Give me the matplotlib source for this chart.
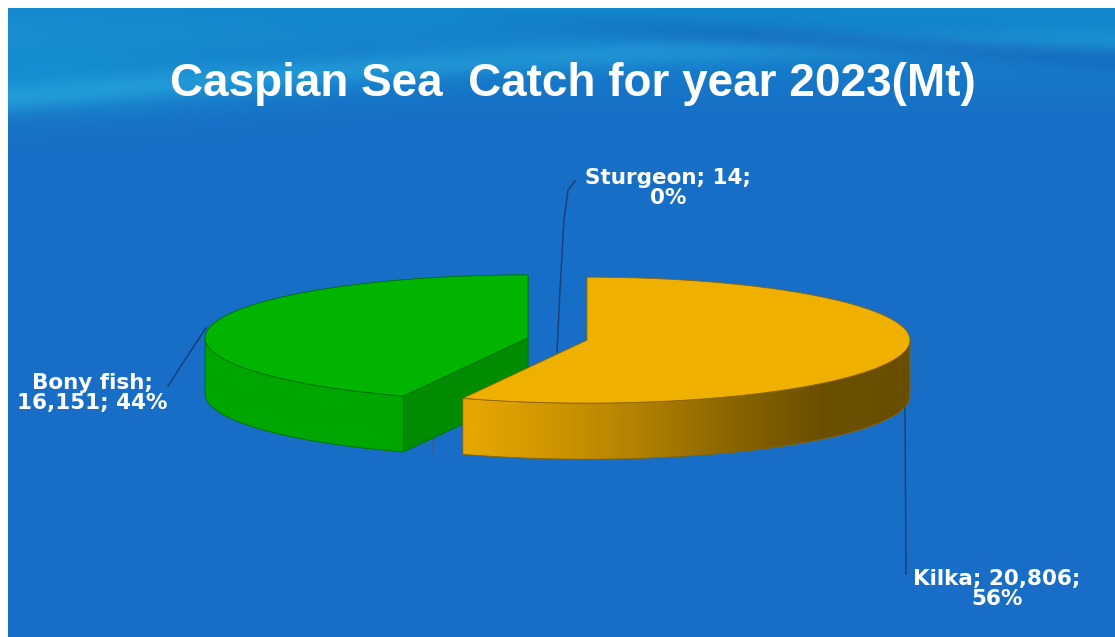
import numpy as np
import matplotlib
matplotlib.use("Agg")
import matplotlib.pyplot as plt
from matplotlib.patches import Polygon
from matplotlib.colors import LinearSegmentedColormap

# ---- data -------------------------------------------------------------
categories = ["Kilka", "Sturgeon", "Bony fish"]
catch_t = [20806, 14, 16151]
title = "Caspian Sea  Catch for year 2023(Mt)"

# ---- styling ----------------------------------------------------------
top_colors = {"Kilka": "#F0B000", "Sturgeon": "#C0504D", "Bony fish": "#00B400"}
side_colors = {"Kilka": None, "Sturgeon": "#943634", "Bony fish": "#00A600"}
cut_colors = {"Kilka": "#B88400", "Sturgeon": "#7A2C2A", "Bony fish": "#008C00"}
edge_colors = {"Kilka": "#8A6400", "Sturgeon": "#632523", "Bony fish": "#007000"}
explode_px = {"Kilka": 30, "Sturgeon": 0, "Bony fish": 30}
label_fmt = {"Kilka": "Kilka; {v};\n{p}",
             "Sturgeon": "Sturgeon; {v};\n{p}",
             "Bony fish": "Bony fish;\n{v}; {p}"}
label_pos = {"Kilka": (997, 589), "Sturgeon": (668, 188), "Bony fish": (92, 393)}
leaders = {"Kilka": [(905, 408), (906, 574)],
           "Sturgeon": [(557, 352), (560, 290), (564, 220), (568, 190), (575, 181)],
           "Bony fish": [(206, 328), (190, 352), (168, 386)]}

W, H = 1115, 637
cx, cy = 557.5, 339.0      # pie centre on screen
rx, ry = 323.0, 63.0       # ellipse radii of the tilted pie
depth = 56.0               # thickness of the pie
start_angle = 90.0

fig = plt.figure(figsize=(W / 100, H / 100), dpi=100)
ax = fig.add_axes([0, 0, 1, 1])
ax.axis("off")

# ---- slide background -------------------------------------------------
yy, xx = np.mgrid[0:H, 0:W].astype(float)
base = np.array([24, 110, 198]) / 255.0
img = np.ones((H, W, 3)) * base
# lighter, slightly cyan sky at the top (strongest on the left)
top_col = np.array([18, 135, 205]) / 255.0
t = np.clip((120 - yy) / 110.0, 0, 1)
img = img * (1 - t[..., None]) + top_col * t[..., None]
corner = np.exp(-(((xx - 8) / 260.0) ** 2 + ((yy - 70) / 45.0) ** 2)) * 0.55
corner_col = np.array([22, 158, 215]) / 255.0
img = img * (1 - corner[..., None]) + corner_col * corner[..., None]
# cyan wave sweeping up to the right
wave_c = 98 - 58 * (xx / W) - 12 * np.sin(xx / W * np.pi)
band = np.exp(-((yy - wave_c) / 14.0) ** 2) * (0.55 + 0.45 * (1 - xx / W))
cyan = np.array([40, 165, 220]) / 255.0
img = img * (1 - band[..., None] * 0.7) + cyan * band[..., None] * 0.7
# darker wave in the upper right
u = np.clip((xx - 450) / 665.0, 0, 1)
wave_d = 20 + 40 * u ** 1.2
band_d = np.exp(-((yy - wave_d) / 12.0) ** 2) * np.clip((xx - 450) / 300, 0, 1)
dark = np.array([20, 95, 185]) / 255.0
img = img * (1 - band_d[..., None] * 0.5) + dark * band_d[..., None] * 0.5
# soft light streak near the top
wave_l = 30 + 15 * (xx / W)
band_l = np.exp(-((yy - wave_l) / 18.0) ** 2) * np.clip(1 - xx / 700, 0, 1) * 0.3
light = np.array([40, 150, 215]) / 255.0
img = img * (1 - band_l[..., None]) + light * band_l[..., None]
# white slide margin
img[:8, :, :] = 1.0
img[:, :8, :] = 1.0
ax.imshow(np.clip(img, 0, 1), extent=(0, W, H, 0), aspect="auto", zorder=0,
          interpolation="bilinear")

# ---- 3-D exploded pie -------------------------------------------------
total = float(sum(catch_t))
fracs = [v / total for v in catch_t]


def pt(ox, oy, theta, z=0.0, r=1.0):
    th = np.radians(theta)
    return (cx + ox + r * rx * np.cos(th), cy + oy - r * ry * np.sin(th) + z)


def arc(ox, oy, a0, a1, z=0.0, n=120):
    ths = np.linspace(a0, a1, n)
    return [pt(ox, oy, th, z) for th in ths]


def visible_side(lo, hi):
    spans = []
    for s0, s1 in [(-540, -360), (-180, 0), (180, 360)]:
        a, b = max(lo, s0), min(hi, s1)
        if b > a:
            spans.append((a, b))
    return spans


slices = []
cum = 0.0
for name, f in zip(categories, fracs):
    hi = start_angle - 360 * cum
    lo = start_angle - 360 * (cum + f)
    cum += f
    mid = 0.5 * (lo + hi)
    e = explode_px[name]
    ox = e * np.cos(np.radians(mid))
    oy = -e * np.sin(np.radians(mid)) * ry / rx
    slices.append((name, f, lo, hi, ox, oy))

kilka_cmap = LinearSegmentedColormap.from_list(
    "kilka_side", ["#E8A800", "#D09600", "#B08000", "#8A6500", "#6C5000", "#6A4E00"])

# back-most slices first: sturgeon (hair-thin), bony fish, kilka
order = ["Sturgeon", "Bony fish", "Kilka"]
for name in order:
    _, f, lo, hi, ox, oy = next(s for s in slices if s[0] == name)
    zb = 1 + order.index(name) * 5
    ec = edge_colors[name]
    thin = f < 0.005
    # cut faces facing the viewer (a hair-thin slice shows none)
    if not thin:
        for a, normal in [(hi, hi + 90), (lo, lo - 90)]:
            if np.sin(np.radians(normal)) < -1e-6:
                c0 = pt(ox, oy, 0, 0, r=0)
                c1 = pt(ox, oy, 0, depth, r=0)
                p0 = pt(ox, oy, a, 0)
                p1 = pt(ox, oy, a, depth)
                ax.add_patch(Polygon([c0, p0, p1, c1], closed=True,
                                     facecolor=cut_colors[name],
                                     edgecolor=ec, lw=0.6, zorder=zb))
    # outer curved wall
    for a0, a1 in visible_side(lo, hi):
        poly = arc(ox, oy, a0, a1, 0) + arc(ox, oy, a1, a0, depth)
        if side_colors[name] is None:
            patch = Polygon(poly, closed=True, facecolor="none", edgecolor=ec, lw=0.6,
                            zorder=zb + 1)
            ax.add_patch(patch)
            xs = [p[0] for p in poly]
            ys = [p[1] for p in poly]
            grad = np.linspace(0, 1, 256)[None, :]
            im = ax.imshow(grad, cmap=kilka_cmap, aspect="auto",
                           extent=(min(xs), max(xs), max(ys), min(ys)), zorder=zb + 0.5)
            im.set_clip_path(patch)
        else:
            ax.add_patch(Polygon(poly, closed=True, facecolor=side_colors[name],
                                 edgecolor=ec, lw=0 if thin else 0.6, zorder=zb + 1))
    # top face
    top = [pt(ox, oy, 0, 0, r=0)] + arc(ox, oy, lo, hi, 0)
    ax.add_patch(Polygon(top, closed=True, facecolor=top_colors[name],
                         edgecolor=ec, lw=0 if thin else 0.6, zorder=zb + 2))

# ---- data labels with leader lines -------------------------------------
for name, v, f in zip(categories, catch_t, fracs):
    pts = leaders[name]
    ax.plot([p[0] for p in pts], [p[1] for p in pts], color="#1B3F78", lw=1.1, zorder=30)
    txt = label_fmt[name].format(v=f"{v:,}", p=f"{round(f * 100):.0f}%")
    x, y = label_pos[name]
    ax.text(x, y, txt, ha="center", va="center", color="white", fontsize=15.5,
            fontweight="bold", family="DejaVu Sans", linespacing=1.05, zorder=31)

# ---- title ------------------------------------------------------------
ax.text(573, 84, title, ha="center", va="center", color="white", fontsize=33,
        fontweight="bold", family="Liberation Sans", zorder=31)

ax.set_xlim(0, W)
ax.set_ylim(H, 0)
fig.savefig("out.png", dpi=100)
